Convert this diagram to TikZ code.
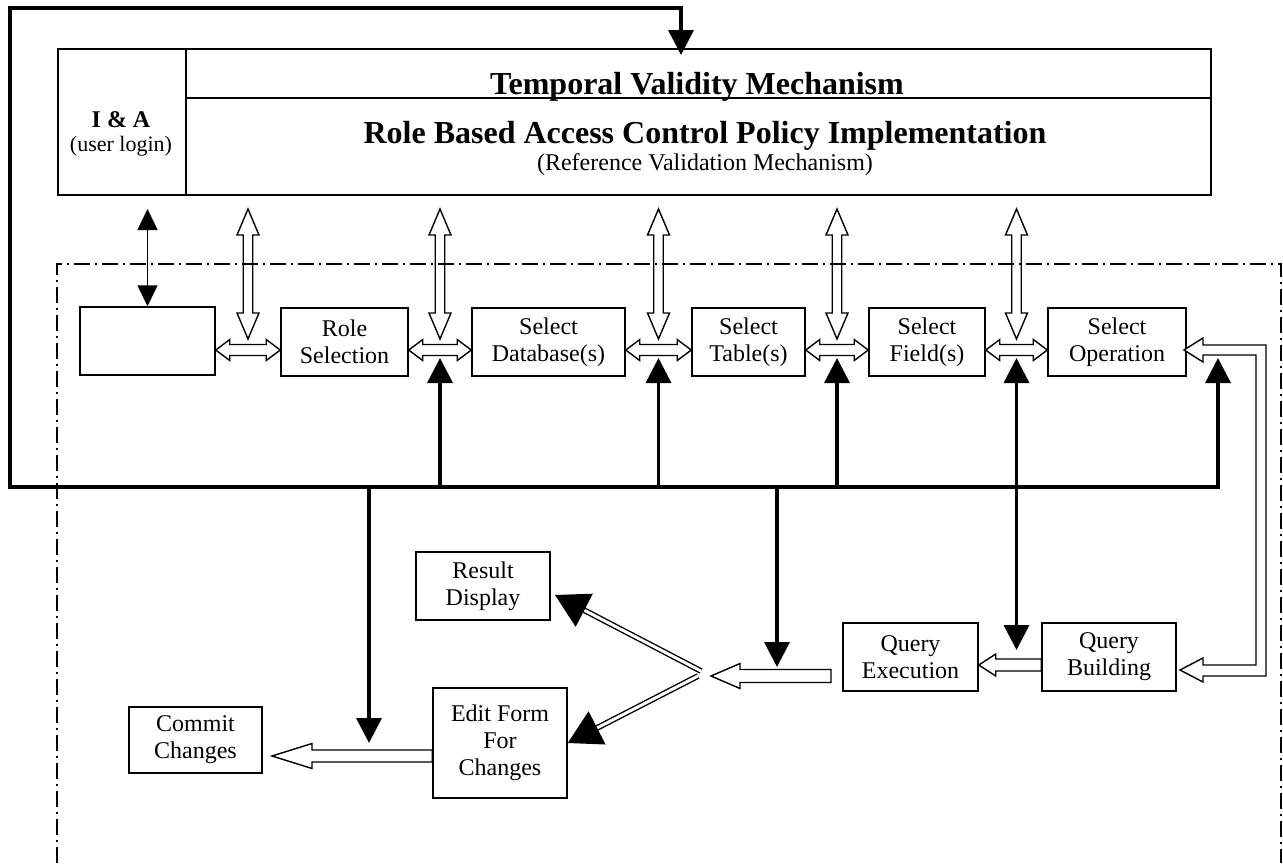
\documentclass[tikz,border=0pt]{standalone}
\usepackage{fontspec}
\setmainfont{Liberation Serif}
\usetikzlibrary{arrows.meta,calc}

\tikzset{
  box/.style={draw, line width=1.5pt, fill=white, align=center, inner sep=0pt,
    font=\fontsize{24}{27}\selectfont, minimum height=68pt},
  cell/.style={draw, line width=1.5pt, inner sep=0pt},
  bus/.style={line width=3.5pt},
  bushead/.style={-{Triangle[length=25pt,width=25pt]}},
  busboth/.style={{Triangle[length=25pt,width=25pt]}-{Triangle[length=25pt,width=25pt]}},
  hollow/.style={draw, line width=1.4pt, fill=white, line join=miter},
  dbl/.style={double, line width=1.4pt, double distance=3pt, -{Triangle[length=33pt,width=37pt]}},
  ddframe/.style={line width=1.5pt, dash pattern=on 16pt off 5pt on 2pt off 5pt},
  ttl/.style={font=\fontsize{32}{36}\selectfont\bfseries, inner sep=0pt, anchor=base},
  subt/.style={font=\fontsize{24}{27}\selectfont, inner sep=0pt, anchor=base},
}

\newcommand\setdir[2]{%
  \path let \p1=(#1),\p2=(#2) in \pgfextra{%
    \pgfmathsetmacro\tmpA{veclen(\x2-\x1,\y2-\y1)}%
    \pgfmathsetmacro\tmpB{atan2(\y2-\y1,\x2-\x1)}%
    \xdef\blen{\tmpA}\xdef\bang{\tmpB}};}
% single-headed hollow block arrow: start, tip, head length, head half width, shaft half width
\newcommand\hollowone[5]{%
  \setdir{#1}{#2}%
  \path[hollow, shift={(#1)}, rotate=\bang] (0pt,#5pt) -- (\blen pt-#3pt,#5pt) -- (\blen pt-#3pt,#4pt)
    -- (\blen pt,0pt) -- (\blen pt-#3pt,-#4pt) -- (\blen pt-#3pt,-#5pt) -- (0pt,-#5pt) -- cycle;}
% double-headed hollow block arrow
\newcommand\hollowtwo[5]{%
  \setdir{#1}{#2}%
  \path[hollow, shift={(#1)}, rotate=\bang] (0pt,0pt) -- (#3pt,#4pt) -- (#3pt,#5pt)
    -- (\blen pt-#3pt,#5pt) -- (\blen pt-#3pt,#4pt) -- (\blen pt,0pt) -- (\blen pt-#3pt,-#4pt)
    -- (\blen pt-#3pt,-#5pt) -- (#3pt,-#5pt) -- (#3pt,-#4pt) -- cycle;}

\begin{document}
\begin{tikzpicture}[x=1pt,y=-1pt]
\useasboundingbox (0,0) rectangle (1283,863);

% helper coordinates
\coordinate (rowy) at (0,350);
\coordinate (vtop) at (0,209);
\coordinate (vbot) at (0,339);
\coordinate (tipy) at (0,358);
\coordinate (busy) at (0,487);
\coordinate (qtip) at (0,650);

% top block
\node[cell, anchor=north west, minimum width=128pt, minimum height=146pt] (ia) at (57,48) {};
\node[cell, anchor=north west, minimum width=1025pt, minimum height=49pt] (tvm) at (185,48) {};
\node[cell, anchor=north west, minimum width=1025pt, minimum height=97pt] (rbac) at (185,97) {};
\node[font=\fontsize{24}{27}\selectfont\bfseries, anchor=base, inner sep=0pt] (ia1) at (121,127) {I \& A};
\node[font=\fontsize{22}{26}\selectfont, anchor=base, inner sep=0pt] (ia2) at (121,151) {(user login)};
\node[ttl] (tvmtxt) at (697,94) {Temporal Validity Mechanism};
\node[ttl] (rbactxt) at (705,143) {Role Based Access Control Policy Implementation};
\node[subt] (rvm) at (705,170) {(Reference Validation Mechanism)};

% bus frame
\coordinate (tvmin) at (681,55);
\draw[bus, busboth] (tvmin) -- (681,8) -- (10,8) -- (10,487) -- (1218,487) -- (1218,358);

% chain boxes
\node[box, minimum width=135pt] (blank) at (147.5,341) {};
\node[box, minimum width=127pt] (role) at (344.5,342) {Role\\Selection};
\node[box, minimum width=153pt] (db) at (548.5,342) {Select\\Database(s)};
\node[box, minimum width=113pt] (tbl) at (748.5,342) {Select\\Table(s)};
\node[box, minimum width=116pt] (fld) at (927,342) {Select\\Field(s)};
\node[box, minimum width=138pt] (op) at (1117,342) {Select\\Operation};

\coordinate (m1) at ($(blank.east |- rowy)!.5!(role.west |- rowy)$);
\coordinate (m2) at ($(role.east |- rowy)!.5!(db.west |- rowy)$);
\coordinate (m3) at ($(db.east |- rowy)!.5!(tbl.west |- rowy)$);
\coordinate (m4) at ($(tbl.east |- rowy)!.5!(fld.west |- rowy)$);
\coordinate (m5) at ($(fld.east |- rowy)!.5!(op.west |- rowy)$);

% black arrows from bus
\draw[bus, bushead] (m2 |- busy) -- (m2 |- tipy);
\draw[bus, bushead] (m3 |- busy) -- (m3 |- tipy);
\draw[bus, bushead] (m4 |- busy) -- (m4 |- tipy);
\draw[bus, busboth] (m5 |- tipy) -- (m5 |- qtip);
\coordinate (d1) at (369,743);
\coordinate (d2) at (777,667);
\draw[bus, bushead] (d1 |- busy) -- (d1);
\draw[bus, bushead] (d2 |- busy) -- (d2);

% thin arrow I&A <-> blank box
\draw[line width=1.5pt, {Triangle[length=21pt,width=20pt]}-{Triangle[length=21pt,width=20pt]}]
  (blank.north |- vtop) -- (blank.north);

% hollow arrows in the chain
\hollowtwo{blank.east |- rowy}{role.west |- rowy}{14}{10.5}{5.5}
\hollowtwo{role.east |- rowy}{db.west |- rowy}{14}{10.5}{5.5}
\hollowtwo{db.east |- rowy}{tbl.west |- rowy}{14}{10.5}{5.5}
\hollowtwo{tbl.east |- rowy}{fld.west |- rowy}{14}{10.5}{5.5}
\hollowtwo{fld.east |- rowy}{op.west |- rowy}{14}{10.5}{5.5}
\hollowtwo{m1 |- vtop}{m1 |- vbot}{26}{11}{4.75}
\hollowtwo{m2 |- vtop}{m2 |- vbot}{26}{11}{4.75}
\hollowtwo{m3 |- vtop}{m3 |- vbot}{26}{11}{4.75}
\hollowtwo{m4 |- vtop}{m4 |- vbot}{26}{11}{4.75}
\hollowtwo{m5 |- vtop}{m5 |- vbot}{26}{11}{4.75}

% lower boxes
\node[box, minimum width=134pt] (rd) at (483,586) {Result\\Display};
\node[box, minimum width=134pt, minimum height=110pt] (ef) at (500,743) {Edit Form\\For\\Changes};
\node[box, minimum width=133pt, minimum height=66pt] (cc) at (195.5,740) {Commit\\Changes};
\node[box, minimum width=135pt] (qe) at (910.5,657) {Query\\Execution};
\node[box, minimum width=134pt] (qb) at (1109,657) {Query\\Building};

% U-shaped hollow arrow: Select Operation <-> Query Building
\draw[hollow] (1184,350) -- (1203,338) -- (1203,345) -- (1266,345) -- (1266,676) -- (1203,676)
  -- (1203,682) -- (1180,670) -- (1203,658) -- (1203,665) -- (1256,665) -- (1256,355)
  -- (1203,355) -- (1203,362) -- cycle;

% lower hollow arrows
\coordinate (qy) at (0,665);
\hollowone{qb.west |- qy}{qe.east |- qy}{17}{11}{6}
\coordinate (ex1) at (831,676);
\coordinate (ex2) at (711,676);
\hollowone{ex1}{ex2}{29}{12.5}{6.5}
\coordinate (cy) at (0,756);
\coordinate (ctip) at (272,756);
\hollowone{ef.west |- cy}{ctip}{40}{12.5}{6}

% double-line arrows
\coordinate (cv1) at (701,671);
\coordinate (cv2) at (698,676);
\coordinate (rdtip) at (555,595);
\draw[dbl] (cv1) -- (rdtip);
\draw[dbl] (cv2) -- (ef.east);

% dash-dot frame (drawn last, it crosses the arrows as in the original)
\draw[ddframe] (57,863) -- (57,264) -- (1281,264) -- (1281,863);
\end{tikzpicture}
\end{document}
